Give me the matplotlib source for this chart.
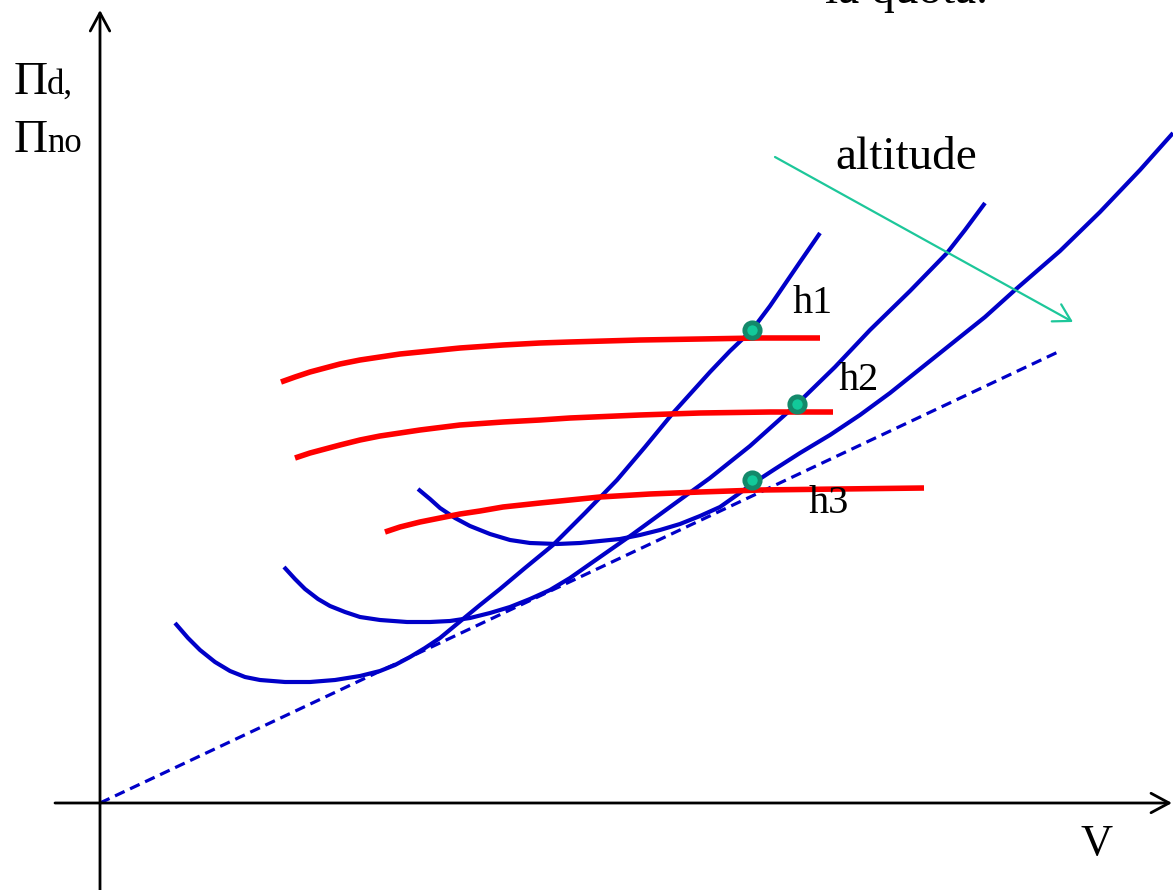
import matplotlib.pyplot as plt

# power required / power available vs speed, for three altitudes
# everything below is in drawing units (px of the 1173x890 sheet, y pointing down)

# required-power curves (blue), one per altitude
req_h1_x = [175, 188, 200, 215, 230, 245, 260, 285, 310, 335, 360, 380, 395, 410, 425, 440, 463,
            480, 500, 525, 553, 585, 617, 645, 673, 710, 730, 752, 770, 785, 800, 820]
req_h1_y = [623, 638, 650, 662, 671, 677, 680, 682, 682, 680, 676, 671, 665, 657, 648, 638, 619,
            605, 589, 568, 545, 513, 480, 447, 413, 372, 351, 330, 306, 284, 262, 233]

req_h2_x = [284, 295, 305, 318, 330, 345, 360, 380, 407, 430, 450, 470, 490, 510, 530, 550, 570,
            600, 633, 670, 710, 750, 797, 835, 870, 910, 947, 965, 985]
req_h2_y = [567, 579, 589, 599, 606, 612, 617, 620, 622, 622, 621, 618, 613, 607, 599, 590, 578,
            557, 534, 507, 478, 446, 404, 367, 330, 291, 253, 230, 203]

req_h3_x = [418, 430, 440, 455, 470, 490, 510, 530, 557, 580, 600, 620, 640, 660, 680, 700, 720,
            737, 752, 775, 800, 830, 860, 890, 920, 950, 985, 1015, 1060, 1100, 1140, 1173]
req_h3_y = [489, 499, 508, 518, 526, 534, 540, 543, 544, 543, 541, 539, 535, 530, 524, 516, 507,
            495, 484, 469, 453, 435, 415, 393, 369, 345, 317, 290, 251, 212, 170, 133]

# available-power curves (red)
av_h1_x = [281, 295, 310, 325, 340, 360, 380, 400, 420, 460, 503, 540, 570, 640, 700, 760, 820]
av_h1_y = [382, 377, 372, 368, 364, 360, 357, 354, 352, 348, 345, 343, 342, 340, 339, 338, 338]

av_h2_x = [295, 310, 325, 340, 360, 380, 400, 420, 460, 503, 540, 570, 640, 700, 770, 833]
av_h2_y = [458, 453, 449, 445, 440, 436, 433, 430, 425, 422, 420, 418, 415, 413, 412, 412]

av_h3_x = [385, 400, 420, 440, 460, 480, 503, 540, 570, 600, 650, 700, 760, 840, 924]
av_h3_y = [532, 527, 522, 518, 514, 511, 507, 503, 500, 497, 494, 492, 490, 489, 488]

# tangent from the origin
tan_x = [100, 1058]
tan_y = [803, 352]

# max-speed points
pts_x = [752, 797, 752]
pts_y = [330, 404, 480]
pts_lab = ['h1', 'h2', 'h3']
lab_pos = [(813, 313), (859, 390), (829, 513)]

BLUE = '#0000c8'
RED = '#ff0000'
SERIF = 'Liberation Serif'

fig = plt.figure(figsize=(11.73, 8.90), dpi=100)
ax = fig.add_axes([0, 0, 1, 1])
ax.set_xlim(0, 1173)
ax.set_ylim(890, 0)
ax.axis('off')

# axes with open arrow heads
arrow_k = dict(arrowstyle='->,head_length=13,head_width=7', lw=2.0, color='black',
               mutation_scale=1, shrinkA=0, shrinkB=0)
ax.annotate('', xy=(100, 10), xytext=(100, 890), arrowprops=arrow_k)
ax.annotate('', xy=(1172, 803), xytext=(55, 803), arrowprops=arrow_k)

ax.plot(tan_x, tan_y, color=BLUE, lw=2.3, dashes=(3.3, 1.9), zorder=2)

for xs, ys in [(req_h1_x, req_h1_y), (req_h2_x, req_h2_y), (req_h3_x, req_h3_y)]:
    ax.plot(xs, ys, color=BLUE, lw=3.0, solid_capstyle='butt', solid_joinstyle='round', zorder=3)

for xs, ys in [(av_h1_x, av_h1_y), (av_h2_x, av_h2_y), (av_h3_x, av_h3_y)]:
    ax.plot(xs, ys, color=RED, lw=4.0, solid_capstyle='butt', solid_joinstyle='round', zorder=4)

ax.plot(pts_x, pts_y, 'o', ms=11, mew=3.5, mfc='#12c99a', mec='#13896a', zorder=5)

for lab, (lx, ly) in zip(pts_lab, lab_pos):
    ax.text(lx, ly, lab, family=SERIF, fontsize=29, ha='center', va='baseline', zorder=6)

# altitude direction
ax.annotate('', xy=(1073, 322), xytext=(775, 157),
            arrowprops=dict(arrowstyle='->,head_length=12,head_width=7', lw=1.6,
                            color='#1dc79a', mutation_scale=1, shrinkA=0, shrinkB=0))
ax.text(906, 169, 'altitude', family=SERIF, fontsize=34, ha='center', va='baseline')
ax.text(825, 3, 'la quota.', family=SERIF, fontsize=34, ha='left', va='baseline')

# axis labels
ax.text(1097, 855, 'V', family=SERIF, fontsize=32, ha='center', va='baseline')
ax.text(14, 94, 'Π', family=SERIF, fontsize=34, ha='left', va='baseline')
ax.text(47, 94, 'd,', family=SERIF, fontsize=25, ha='left', va='baseline')
ax.text(14, 152, 'Π', family=SERIF, fontsize=34, ha='left', va='baseline')
ax.text(47, 152, 'no', family=SERIF, fontsize=25, ha='left', va='baseline')

fig.savefig('out.png', dpi=100)
